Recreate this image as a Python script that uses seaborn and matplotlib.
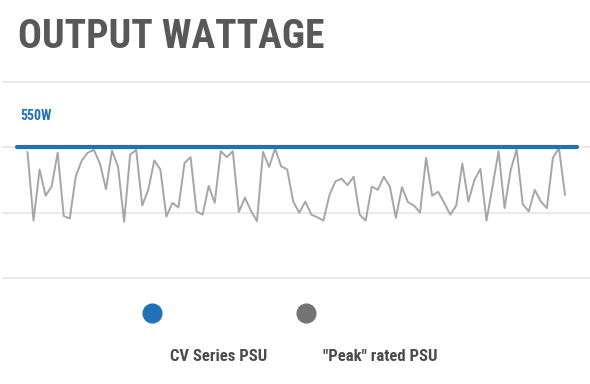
import numpy as np
import pandas as pd
import matplotlib
matplotlib.use("Agg")
import matplotlib.pyplot as plt
from matplotlib.lines import Line2D
import seaborn as sns

# valores (W)
cv_rating = 550
peak_watts = [543, 438, 516, 476, 490, 542, 445, 441, 506, 530,
              542, 546, 525, 486, 545, 520, 436, 539, 546, 461,
              485, 530, 516, 444, 465, 458, 526, 535, 452, 447,
              491, 465, 544, 535, 544, 451, 473, 453, 437, 543,
              520, 548, 521, 516, 467, 450, 467, 447, 443, 438,
              477, 498, 502, 492, 505, 447, 438, 490, 485, 505,
              490, 442, 489, 466, 461, 450, 534, 476, 482, 465,
              447, 461, 525, 467, 500, 517, 438, 490, 544, 457,
              515, 547, 463, 452, 485, 467, 457, 534, 549, 477]
grid_watts = [350, 450, 550, 650]
legend_labels = ["CV Series PSU", '"Peak" rated PSU']

blue = "#1f72b8"
gray_line = "#a6a6a6"
gray_dot = "#737373"

sns.set_theme(style="white")
plt.rcParams['font.family'] = ['Roboto Condensed', 'DejaVu Sans']
plt.rcParams['font.stretch'] = 'condensed'

df = pd.DataFrame({"amostra": np.arange(len(peak_watts)), "watts": peak_watts})

fig = plt.figure(figsize=(5.9, 3.84), dpi=100)
ax = fig.add_axes([2 / 590, 94 / 384, 588 / 590, 220 / 384])

for g in grid_watts:
    ax.axhline(g, color="#e6e6e6", lw=1.2, zorder=0)

sns.lineplot(data=df, x="amostra", y="watts", color=gray_line, lw=1.4, ax=ax)
ax.axhline(cv_rating, xmin=15 / 588, xmax=575 / 588, color=blue, lw=3, zorder=3)

ax.set_xlim(-4.22, 93.14)
ax.set_ylim(331.7, 668.3)
ax.set_xlabel("")
ax.set_ylabel("")
ax.set_xticks([])
ax.set_yticks([])
for s in ax.spines.values():
    s.set_visible(False)

ax.text(18 / 588, (290 - 120.5) / 220, f"{cv_rating}W", transform=ax.transAxes,
        color=blue, fontsize=10, fontweight="bold", va="baseline", ha="left")

fig.text(18 / 590, 1 - 48 / 384, "OUTPUT WATTAGE", fontsize=28.5, fontweight="bold",
         color="#58585a", va="baseline", ha="left")

# legenda manual (marcador acima do texto)
for cx, col, lab, tx in [(152, blue, legend_labels[0], 170), (306, gray_dot, legend_labels[1], 323)]:
    fig.add_artist(Line2D([cx / 590], [1 - 312.5 / 384], marker="o", markersize=13.5,
                          color=col, lw=0, transform=fig.transFigure))
    fig.text(tx / 590, 1 - 361 / 384, lab, fontsize=12, fontweight="bold",
             color="#4a4a4a", va="baseline", ha="left")

fig.savefig("out.png", dpi=100)
